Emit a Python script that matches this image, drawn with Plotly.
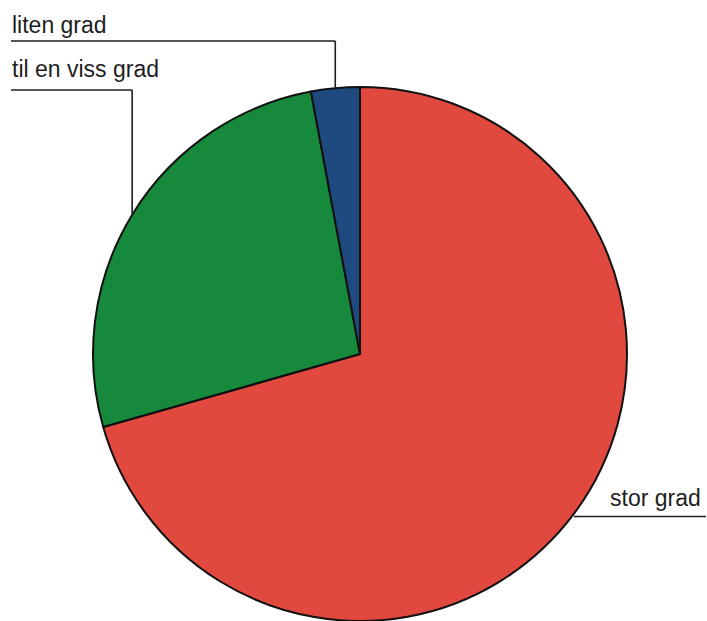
import math
import plotly.graph_objects as go

# ---- data ----
categories = ["stor grad", "til en viss grad", "liten grad"]
values = [24, 9, 1]
colors = ["#e1483e", "#17893c", "#1f4a80"]

# ---- layout constants (pixels) ----
W, H = 707, 621
CX, CY, R = 360, 355, 268
FONT = dict(family="Liberation Sans, Arial, sans-serif", size=23, color="#1e1e1e")


def px(x):
    return x / W


def py(y):
    return 1 - y / H


fig = go.Figure(go.Pie(
    labels=categories,
    values=values,
    sort=False,
    direction="clockwise",
    rotation=0,
    marker=dict(colors=colors, line=dict(color="#111111", width=2)),
    textinfo="none",
    hoverinfo="label+percent",
    domain=dict(x=[(CX - R) / W, (CX + R) / W],
                y=[max(0.0, (H - CY - R) / H), (H - CY + R) / H]),
))

# anchor points at the slice mid-angles (clockwise from 12 o'clock)
total = sum(values)
anchors = []
acc = 0
for v in values:
    mid = (acc + v / 2) / total * 2 * math.pi
    anchors.append((CX + R * math.sin(mid), CY - R * math.cos(mid)))
    acc += v

shapes = []
annotations = []
line_style = dict(color="#1e1e1e", width=1.6)

# label specs: (category index, label line y, side, text baseline y)
label_specs = [
    (2, 41, "left", 33),
    (1, 90, "left", 77),
    (0, None, "right", 506),
]
for idx, ly, side, baseline in label_specs:
    ax, ay = anchors[idx]
    if side == "left":
        shapes.append(dict(type="line", xref="paper", yref="paper",
                           x0=px(ax), y0=py(ay), x1=px(ax), y1=py(ly), line=line_style))
        shapes.append(dict(type="line", xref="paper", yref="paper",
                           x0=px(ax), y0=py(ly), x1=px(11), y1=py(ly), line=line_style))
        annotations.append(dict(text=categories[idx], xref="paper", yref="paper",
                                x=px(10), y=py(baseline - 8), xanchor="left", yanchor="middle",
                                showarrow=False, font=FONT))
    else:
        shapes.append(dict(type="line", xref="paper", yref="paper",
                           x0=px(ax), y0=py(ay), x1=px(706), y1=py(ay), line=line_style))
        annotations.append(dict(text=categories[idx], xref="paper", yref="paper",
                                x=px(703), y=py(baseline - 8), xanchor="right", yanchor="middle",
                                showarrow=False, font=FONT))

fig.update_layout(
    width=W, height=H,
    margin=dict(l=0, r=0, t=0, b=0),
    paper_bgcolor="white",
    plot_bgcolor="white",
    showlegend=False,
    shapes=shapes,
    annotations=annotations,
)

fig.write_html(
    "out.html",
    config={"displayModeBar": False},
    post_script="document.body.style.margin='0px';document.body.style.overflow='hidden';",
)
